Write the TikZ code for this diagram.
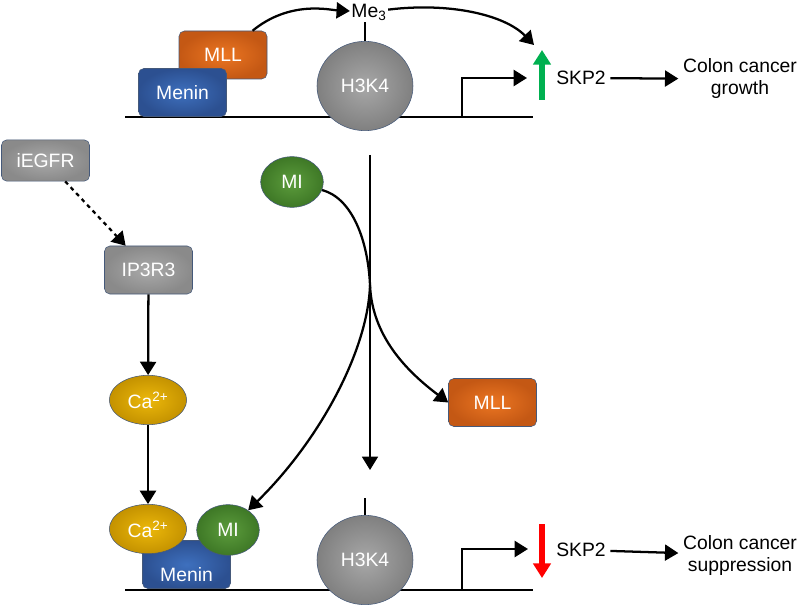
\documentclass[tikz,border=0pt]{standalone}
\usepackage{fontspec}
\setmainfont{Liberation Sans}
\usetikzlibrary{arrows.meta,shapes.geometric}
\definecolor{edge}{HTML}{45597A}
\tikzstyle{arrow} = [-{Triangle[length=10pt,width=12pt]},line width=1.7pt]
\tikzstyle{dna} = [line width=2pt]
\tikzstyle{prot} = [draw=edge,rounded corners=4pt,inner sep=0pt,minimum width=66pt,minimum height=36pt,text=white]
\tikzstyle{blob} = [draw=edge,ellipse,inner sep=0pt,text=white]
\tikzstyle{menin} = [prot,inner color={rgb,255:red,62;green,112;blue,190},outer color={rgb,255:red,44;green,80;blue,145}]
\tikzstyle{mll} = [prot,inner color={rgb,255:red,236;green,118;blue,34},outer color={rgb,255:red,196;green,88;blue,20}]
\tikzstyle{greybox} = [prot,inner color={rgb,255:red,170;green,170;blue,170},outer color={rgb,255:red,138;green,138;blue,138}]
\tikzstyle{histone} = [blob,minimum width=72pt,minimum height=67pt,inner color={rgb,255:red,168;green,168;blue,168},outer color={rgb,255:red,128;green,128;blue,128}]
\tikzstyle{mi} = [blob,minimum width=47pt,minimum height=38pt,inner color={rgb,255:red,92;green,156;blue,60},outer color={rgb,255:red,62;green,120;blue,38}]
\tikzstyle{calcium} = [blob,minimum width=58pt,minimum height=37pt,inner color={rgb,255:red,236;green,184;blue,10},outer color={rgb,255:red,196;green,146;blue,0}]

\begin{document}
\begin{tikzpicture}[x=0.75pt,y=-0.75pt,font=\fontsize{14.5}{16.5}\selectfont]
  \useasboundingbox (0,0) rectangle (800,606);

  % top: active gene
  \coordinate (dnaA1) at (125,117);
  \coordinate (dnaA2) at (533,117);
  \coordinate (promA) at (462,117);
  \coordinate (tssA) at (527,78);
  \draw[dna] (dnaA1) -- (dnaA2);
  \draw[arrow] (promA) |- (tssA);

  \node[mll] (mllA) at (223,55) {MLL};
  \node[menin] (meninA) at (182.5,92.5) {Menin};
  \node[histone] (histA) at (365,86) {H3K4};
  \node[inner sep=1pt] (me) at (369,12) {Me\textsubscript{3}};
  \draw[line width=1.4pt] (histA.north) -- (histA.north |- me.south);

  \coordinate (upBase) at (542,100);
  \coordinate (upTip) at (542,50);
  \coordinate (meEnd) at (534,45);
  \draw[-{Triangle[length=11pt,width=13pt]},line width=4pt,color={rgb,255:red,0;green,176;blue,80}] (upBase) -- (upTip);
  \node (skpA) at (581,78) {SKP2};
  \node[align=center] (growth) at (740,79) {Colon cancer\\growth};
  \draw[arrow] (skpA) -- (growth);

  \draw[arrow] (mllA) .. controls (290,0) and (330,10) .. (me);
  \draw[arrow] (me) .. controls (450,2) and (505,15) .. (meEnd);

  % left: signalling
  \node[greybox,minimum height=31pt] (egfr) at (45.5,160.5) {iEGFR};
  \node[greybox] (ip3r) at (148.5,270) {IP3R3};
  \node[calcium] (caA) at (148,400) {Ca\textsuperscript{2+}};
  \draw[arrow,dashed] (egfr) -- (ip3r);
  \draw[arrow] (ip3r) -- (caA);

  % middle: inhibitor
  \node[mi] (miA) at (292,182) {MI};
  \node[mll] (mllB) at (492.5,402.5) {MLL};
  \coordinate (midTop) at (370,155);
  \coordinate (midBot) at (370,470);
  \coordinate (cross) at (370,285);
  \draw[arrow,line width=1.2pt] (midTop) -- (midBot);

  % bottom: repressed gene
  \coordinate (dnaB1) at (125,590);
  \coordinate (dnaB2) at (533,590);
  \coordinate (promB) at (462,590);
  \coordinate (tssB) at (528,549);
  \draw[dna] (dnaB1) -- (dnaB2);
  \draw[arrow] (promB) |- (tssB);

  \node[menin] (meninB) at (186.5,564.5) {};
  \node[text=white] at (186.5,575) {Menin};
  \node[calcium] (caB) at (148,529) {Ca\textsuperscript{2+}};
  \node[mi] (miB) at (228,530) {MI};
  \node[histone] (histB) at (365,560) {H3K4};
  \coordinate (stemB) at (365,498);
  \draw[line width=1.4pt] (histB.north) -- (stemB);
  \draw[arrow] (caA) -- (caB);

  \coordinate (downBase) at (542,524);
  \coordinate (downTip) at (542,578);
  \draw[-{Triangle[length=11pt,width=13pt]},line width=4pt,red] (downBase) -- (downTip);
  \node (skpB) at (581,550) {SKP2};
  \node[align=center] (suppr) at (740,555) {Colon cancer\\suppression};
  \draw[arrow] (skpB) -- (suppr);

  \draw[line width=1.7pt] (miA) .. controls (352,198) and (368,240) .. (cross);
  \draw[arrow] (cross) .. controls (372,335) and (405,370) .. (mllB.west);
  \draw[arrow] (cross) .. controls (368,350) and (320,440) .. (miB);
\end{tikzpicture}
\end{document}
